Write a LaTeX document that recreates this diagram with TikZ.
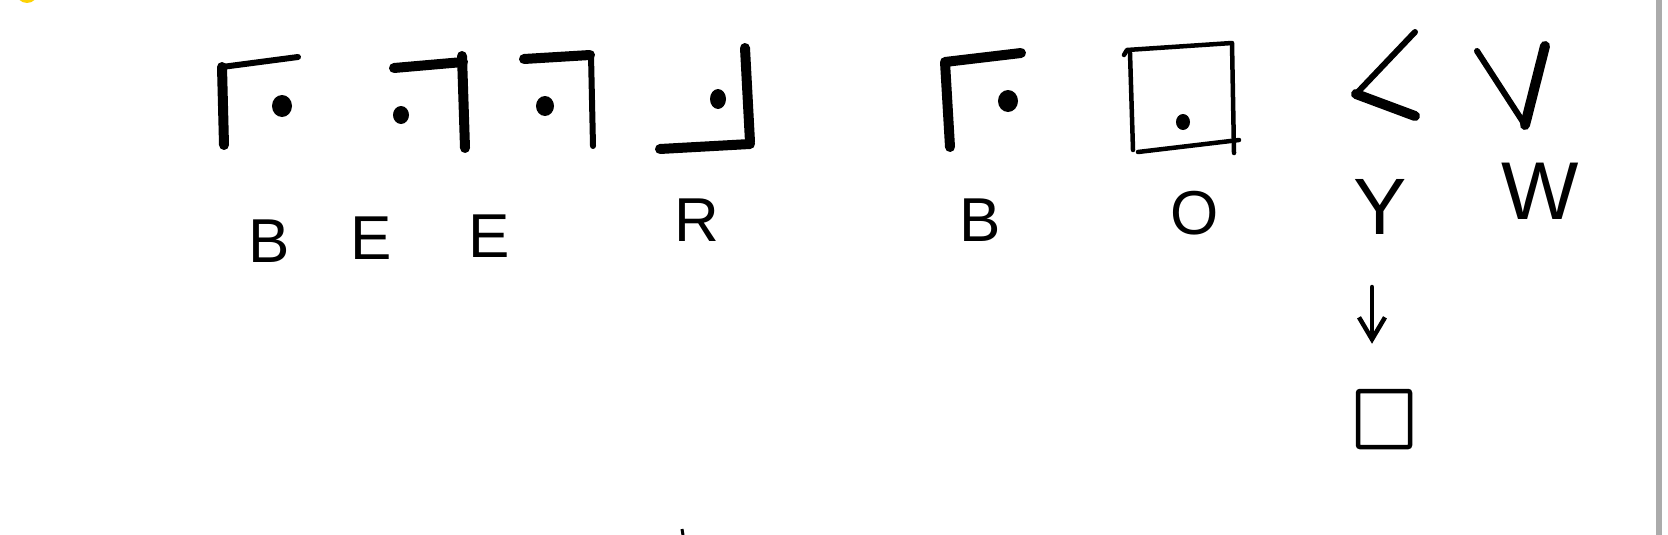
\documentclass[tikz,border=0pt]{standalone}
\usepackage{fontspec}
\setmainfont{Liberation Sans}
\usetikzlibrary{arrows.meta}
\begin{document}
\begin{tikzpicture}[x=1pt,y=-1pt,
  ink/.style={line width=6pt,line cap=round,line join=round,draw=black},
  heavy/.style={line width=10pt,line cap=round,line join=round,draw=black},
  thin/.style={line width=4.5pt,line cap=round,line join=round,draw=black},
  dotmark/.style={fill=black},
  lab/.style={inner sep=0pt,font=\fontsize{62}{62}\selectfont}]
\useasboundingbox (0,0) rectangle (1668,535);
\fill[white] (0,0) rectangle (1668,535);
% yellow dot top-left
\fill[yellow!70!orange] (27,-8) circle (11);
% grey bar at right
\fill[black!33] (1656,0) rectangle (1662,535);
% bottom tick
\draw[line width=3pt] (682,529) -- (683,535);

% glyph 1
\draw[heavy] (224,145) -- (222,67);
\draw[ink] (222,67) -- (298,57);
\fill[dotmark] (282,106) ellipse (10 and 11);
% glyph 2
\draw[heavy] (394,68) -- (463,62);
\draw[heavy] (462,56) -- (465,148);
\fill[dotmark] (401,115) ellipse (8 and 9);
% glyph 3
\draw[heavy] (524,59) -- (590,55);
\draw[ink] (591,55) -- (593,146);
\fill[dotmark] (545,106) ellipse (9 and 10);
% glyph 4
\draw[heavy] (745,48) -- (750,142);
\draw[heavy] (660,149) -- (750,144);
\fill[dotmark] (718,99) ellipse (8 and 10);
% glyph 5
\draw[heavy] (950,147) -- (945,62) -- (1021,53);
\fill[dotmark] (1008,101) ellipse (10 and 11);
% glyph 6
\draw[thin] (1124,55) -- (1127,50) -- (1232,43) -- (1234,153);
\draw[thin] (1130,53) -- (1133,150);
\draw[thin] (1138,152) -- (1239,140);
\fill[dotmark] (1183,122) ellipse (7 and 8);
% glyph 7
\draw[ink] (1415,32) -- (1356,94);
\draw[heavy] (1356,94) -- (1415,116);
% glyph 8
\draw[ink] (1477,51) -- (1525,125);
\draw[heavy] (1525,125) -- (1545,46);

% letters
\node[lab] (b1) at (269,241) {B};
\node[lab] (e1) at (371,238) {E};
\node[lab] (e2) at (489,236) {E};
\node[lab] (r1) at (697,220) {R};
\node[lab] (b2) at (980,220) {B};
\node[lab] (o1) at (1195,213) {O};
\node[lab,font=\fontsize{80}{80}\selectfont] (y1) at (1380,207) {Y};
\node[lab,font=\fontsize{82}{82}\selectfont] (w1) at (1540,191) {W};

% arrow and square
\coordinate (astart) at (1372,287);
\node[draw,line width=4.5pt,minimum width=52pt,minimum height=56pt,inner sep=0pt,rounded corners=2pt] (sq) at (1384,419) {};
\draw[thin,-{Straight Barb[length=22pt,width=26pt,line width=4.5pt]}] (astart) -- ([yshift=45pt]sq.north -| astart);
\end{tikzpicture}
\end{document}
